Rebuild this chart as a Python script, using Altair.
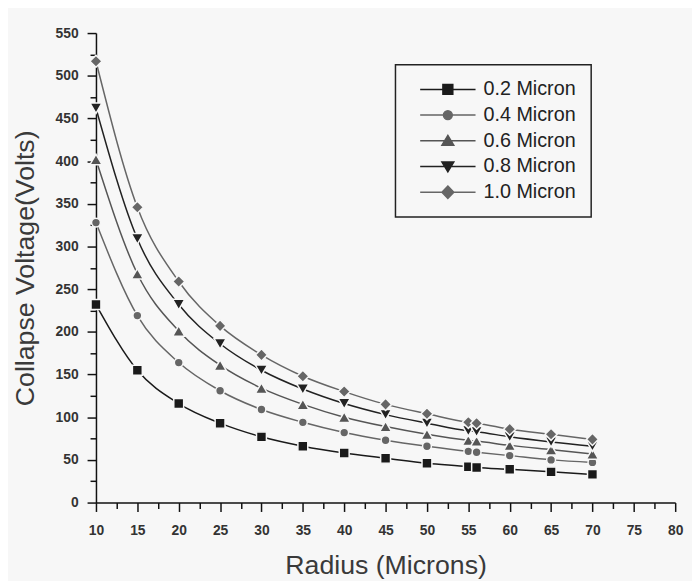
import altair as alt
import pandas as pd

radius = [10, 15, 20, 25, 30, 35, 40, 45, 50, 55, 56, 60, 65, 70]
series_names = ["0.2 Micron", "0.4 Micron", "0.6 Micron", "0.8 Micron", "1.0 Micron"]
v_02 = [232, 155, 116, 93, 77, 66, 58, 52, 46, 42, 41, 39, 36, 33]
v_04 = [328, 219, 164, 131, 109, 94, 82, 73, 66, 60, 59, 55, 50, 47]
v_06 = [402, 268, 201, 161, 134, 115, 100, 89, 80, 73, 72, 67, 62, 57]
v_08 = [462, 309, 232, 186, 155, 133, 116, 103, 93, 84, 83, 77, 71, 66]
v_10 = [517, 346, 259, 207, 173, 148, 130, 115, 104, 94, 93, 86, 80, 74]
values = [v_02, v_04, v_06, v_08, v_10]

colors = ["#1a1a1a", "#666666", "#555555", "#222222", "#666666"]
shapes = ["square", "circle", "triangle-up", "triangle-down", "diamond"]
sizes = [100, 80, 150, 150, 150]
BG = "#f7f7f7"

rows = []
for name, vals in zip(series_names, values):
    for r, v in zip(radius, vals):
        rows.append({"r": r, "v": v, "series": name})
df = pd.DataFrame(rows)

xscale = alt.Scale(domain=[10, 80], nice=False, zero=False)
yscale = alt.Scale(domain=[0, 550], nice=False)

x_ticks = [10 + 2.5 * i for i in range(29)]
y_ticks = [25 * i for i in range(23)]

xaxis = alt.Axis(
    values=x_ticks, title="Radius (Microns)",
    labelExpr="datum.value % 5 === 0 ? datum.label : ''",
    labelOverlap=False, labelFlush=False, grid=False,
    tickSize={"condition": {"test": "datum.value % 5 === 0", "value": 9}, "value": 6},
    labelFont="Liberation Sans", labelFontWeight="bold", labelFontSize=14, labelColor="#333333",
    labelPadding=12,
    titleFont="Liberation Sans", titleFontWeight="normal", titleFontSize=27, titleColor="#3a3a3a",
    titlePadding=16,
    domainColor="#111111", domainWidth=1.5, tickColor="#111111", tickWidth=1.5,
)
yaxis = alt.Axis(
    values=y_ticks, title="Collapse Voltage(Volts)",
    labelExpr="datum.value % 50 === 0 ? datum.label : ''",
    labelOverlap=False, labelFlush=False, grid=False,
    tickSize={"condition": {"test": "datum.value % 50 === 0", "value": 9}, "value": 6},
    labelFont="Liberation Sans", labelFontWeight="bold", labelFontSize=14, labelColor="#333333",
    labelPadding=9,
    titleFont="Liberation Sans", titleFontWeight="normal", titleFontSize=27, titleColor="#3a3a3a",
    titlePadding=16,
    domainColor="#111111", domainWidth=1.5, tickColor="#111111", tickWidth=1.5,
)

X = alt.X("r:Q", scale=xscale, axis=xaxis)
Y = alt.Y("v:Q", scale=yscale, axis=yaxis)

layers = []
for i, name in enumerate(series_names):
    sub = alt.Chart(df).transform_filter(alt.datum.series == name)
    line = sub.mark_line(interpolate="monotone", color=colors[i], strokeWidth=1.5).encode(x=X, y=Y)
    pts = sub.mark_point(filled=True, shape=shapes[i], size=sizes[i], fill=colors[i],
                         stroke=BG, strokeWidth=1.5, opacity=1).encode(x=X, y=Y)
    layers += [line, pts]

line_part = "M-5.6,0H5.6"
legend_paths = [
    line_part + "M-1,-1H1V1H-1Z",
    line_part + "M-0.9,0A0.9,0.9 0 1,0 0.9,0A0.9,0.9 0 1,0 -0.9,0Z",
    line_part + "M0,-1.1L1.2,0.9H-1.2Z",
    line_part + "M-1.2,-0.9H1.2L0,1.1Z",
    line_part + "M0,-1.25L1.2,0L0,1.25L-1.2,0Z",
]

legend = alt.Legend(
    title=None, orient="none", legendX=303, legendY=32,
    labelFont="Liberation Sans", labelFontSize=20, labelColor="#222222",
    symbolSize=100, symbolStrokeWidth=1.5, symbolOffset=28, labelOffset=26,
    symbolOpacity=1,
    rowPadding=6, padding=15,
    strokeColor="#222222",
)

legend_layer = alt.Chart(df).transform_filter("false").mark_point(filled=True, opacity=1).encode(
    x=X, y=Y,
    shape=alt.Shape("series:N", scale=alt.Scale(domain=series_names, range=legend_paths), legend=legend),
    fill=alt.Fill("series:N", scale=alt.Scale(domain=series_names, range=colors), legend=legend),
    stroke=alt.Stroke("series:N", scale=alt.Scale(domain=series_names, range=colors), legend=legend),
)
layers.append(legend_layer)

chart = alt.layer(*layers).properties(
    width=586, height=475,
    autosize=alt.AutoSizeParams(type="none"),
    padding={"left": 89, "top": 22, "right": 17, "bottom": 76},
    background=BG,
).configure_view(stroke=None).configure_legend(strokeWidth=1.5)

chart.save("out.html", embed_options={"renderer": "svg", "actions": False})
